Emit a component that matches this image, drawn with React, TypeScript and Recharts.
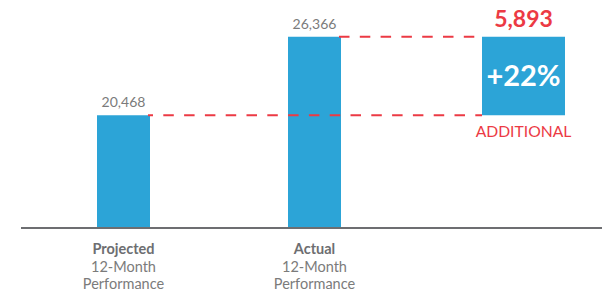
import { BarChart, Bar, XAxis, YAxis, LabelList, ReferenceLine } from 'recharts';

const categories = ['Projected', 'Actual', 'Additional'];
const tickTitles = ['Projected', 'Actual', ''];
const tickSubLines = ['12-Month', 'Performance'];
const performance = [20468, 26366, null];
const additional = 5893;
const additionalPct = 22;
const additionalTag = 'ADDITIONAL';

const BLUE = '#2ca4d7';
const RED = '#ec3a44';
const GRAY = '#7b7b7b';
const DARK_GRAY = '#6d6e71';
const FONT = 'Lato, "Open Sans", sans-serif';

const BAR_SIZE = 53;
const WIDE_SIZE = 83;
const WIDE_SHIFT = 18;

const data = categories.map((category, i) => ({
  category,
  value: performance[i],
  extra: i === 2 ? [performance[0], (performance[0] as number) + additional] : null,
  extraValue: i === 2 ? additional : null,
  pct: i === 2 ? `+${additionalPct}%` : null,
  tag: i === 2 ? additionalTag : null,
}));

function CategoryTick({ x, y, payload }: any) {
  const i = categories.indexOf(payload.value);
  if (!tickTitles[i]) return null;
  return (
    <text x={x} y={y} textAnchor="middle" fontFamily={FONT} fontSize={14.5}>
      <tspan x={x} dy={26} fontWeight="bold" fill={DARK_GRAY}>{tickTitles[i]}</tspan>
      <tspan x={x} dy={17.5} fill={GRAY}>{tickSubLines[0]}</tspan>
      <tspan x={x} dy={17.5} fill={GRAY}>{tickSubLines[1]}</tspan>
    </text>
  );
}

// dashed connector from the right edge of a bar to the left edge of the wide bar
const dashed = (dashOffset: number) => (p: any) => (
  <line
    x1={p.x1 + BAR_SIZE / 2 - 2}
    y1={p.y1}
    x2={p.x2 + WIDE_SHIFT - WIDE_SIZE / 2}
    y2={p.y2}
    stroke={RED}
    strokeWidth={2}
    strokeDasharray="10.5 10.3"
    strokeDashoffset={dashOffset}
  />
);

const fmt = (v: any) => (v == null ? '' : Number(v).toLocaleString('en-US'));

export default function App() {
  return (
    <div style={{ position: 'absolute', left: 0, top: 0 }}>
      <BarChart
        width={602}
        height={292}
        data={data}
        margin={{ top: 15, right: 0, bottom: 0, left: 21 }}
      >
        <XAxis
          dataKey="category"
          height={64}
          padding={{ left: 7, right: 1 }}
          axisLine={{ stroke: DARK_GRAY, strokeWidth: 2 }}
          tickLine={false}
          tickSize={0}
          tickMargin={0}
          tick={<CategoryTick />}
          interval={0}
        />
        <XAxis
          xAxisId="wide"
          dataKey="category"
          hide
          padding={{ left: 7 + WIDE_SHIFT, right: 1 - WIDE_SHIFT }}
        />
        <YAxis hide domain={[12000, 28000]} allowDataOverflow />
        <Bar dataKey="value" fill={BLUE} barSize={BAR_SIZE} isAnimationActive={false}>
          <LabelList
            dataKey="value"
            position="top"
            offset={8}
            formatter={fmt}
            fill={GRAY}
            fontSize={14}
            fontFamily={FONT}
          />
        </Bar>
        <Bar
          xAxisId="wide"
          dataKey="extra"
          fill={BLUE}
          barSize={WIDE_SIZE}
          isAnimationActive={false}
        >
          <LabelList
            dataKey="extraValue"
            position="top"
            offset={10}
            formatter={fmt}
            fill={RED}
            fontSize={23}
            fontWeight="bold"
            fontFamily={FONT}
          />
          <LabelList
            dataKey="pct"
            position="center"
            fill="#ffffff"
            fontSize={29}
            fontWeight="bold"
            fontFamily={FONT}
          />
          <LabelList
            dataKey="tag"
            position="bottom"
            offset={11}
            fill={RED}
            fontSize={15.7}
            fontFamily={FONT}
          />
        </Bar>
        <ReferenceLine
          segment={[
            { x: 'Projected', y: performance[0] },
            { x: 'Additional', y: performance[0] },
          ]}
          ifOverflow="visible"
          shape={dashed(5.5)}
        />
        <ReferenceLine
          segment={[
            { x: 'Actual', y: performance[1] },
            { x: 'Additional', y: performance[1] },
          ]}
          ifOverflow="visible"
          shape={dashed(0)}
        />
      </BarChart>
    </div>
  );
}
